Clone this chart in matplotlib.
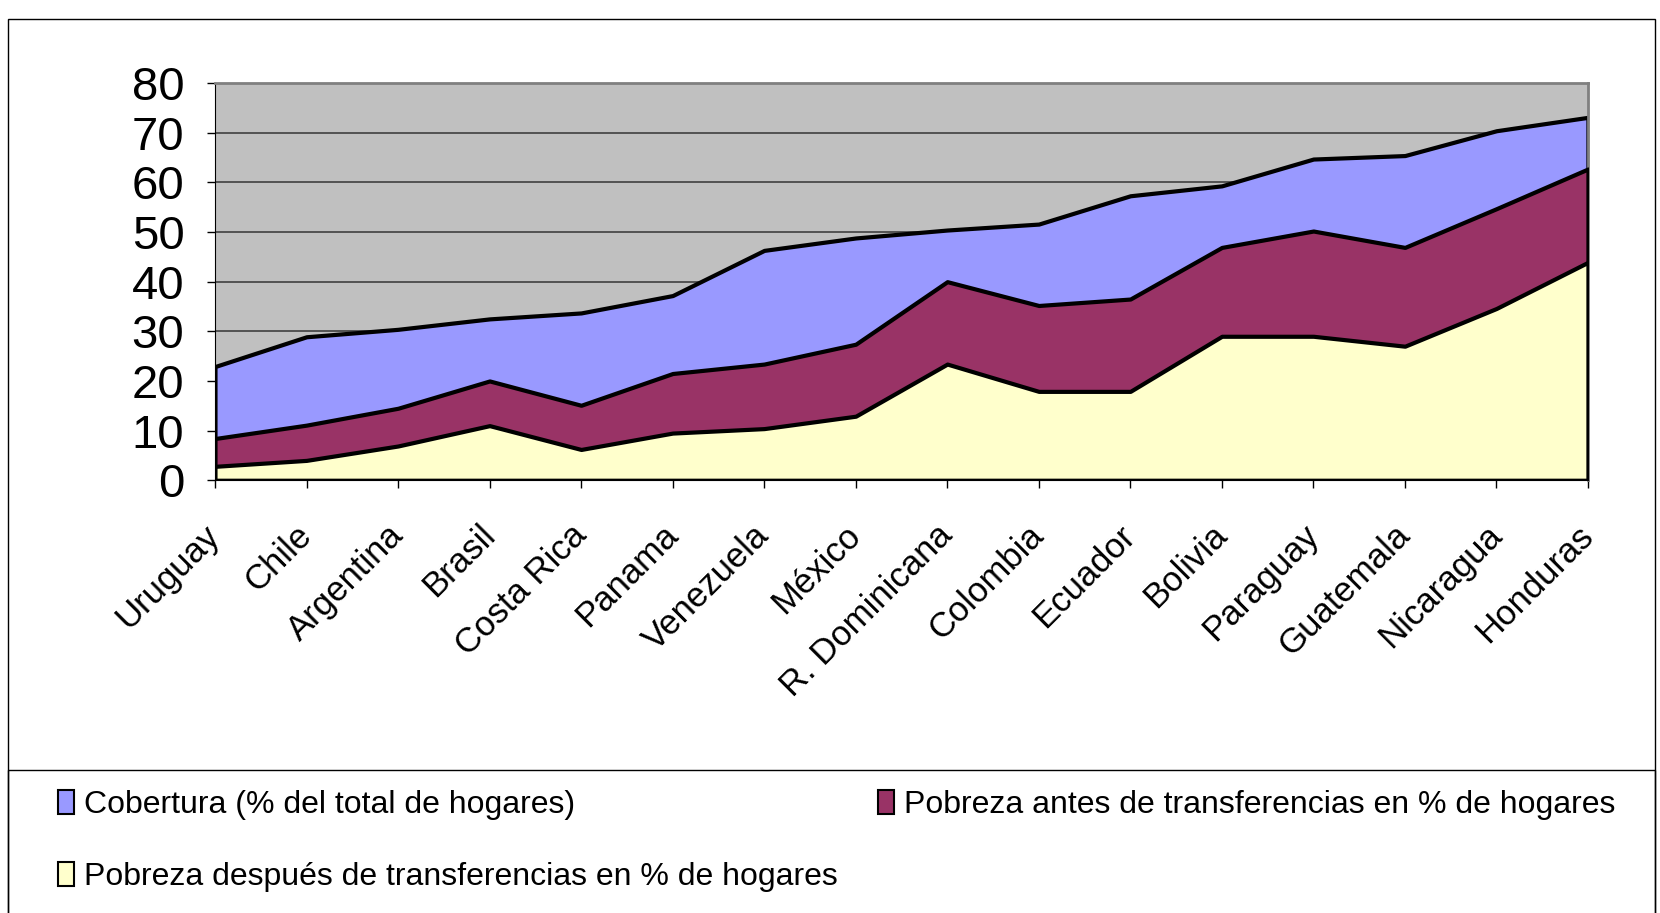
import numpy as np
import matplotlib.pyplot as plt
from matplotlib.patches import Rectangle, Patch

plt.rcParams['font.family'] = ['Liberation Sans', 'DejaVu Sans']

paises = ['Uruguay', 'Chile', 'Argentina', 'Brasil', 'Costa Rica', 'Panama', 'Venezuela',
          'México', 'R. Dominicana', 'Colombia', 'Ecuador', 'Bolivia', 'Paraguay',
          'Guatemala', 'Nicaragua', 'Honduras']
cobertura = [22.9, 28.9, 30.4, 32.5, 33.7, 37.2, 46.3, 48.8, 50.4, 51.6, 57.3, 59.3, 64.7, 65.4, 70.4, 73.1]
pobreza_antes = [8.4, 11.1, 14.5, 20.0, 15.1, 21.5, 23.4, 27.4, 40.0, 35.2, 36.5, 46.9, 50.2, 46.9, 54.7, 62.7]
pobreza_despues = [2.8, 4.0, 6.9, 11.0, 6.2, 9.5, 10.4, 12.9, 23.4, 17.9, 17.9, 29.0, 29.0, 27.0, 34.6, 43.9]

c_cob = '#9999FF'
c_antes = '#993366'
c_desp = '#FFFFCC'

fig = plt.figure(figsize=(16.6, 9.13), dpi=100)
ax = fig.add_axes([0.1295, 0.474, 0.8271, 0.435])

x = np.arange(len(paises))
ax.set_facecolor('#C0C0C0')
ax.fill_between(x, 0, cobertura, facecolor=c_cob, edgecolor='black', linewidth=3, zorder=2)
ax.fill_between(x, 0, pobreza_antes, facecolor=c_antes, edgecolor='black', linewidth=3, zorder=3)
ax.fill_between(x, 0, pobreza_despues, facecolor=c_desp, edgecolor='black', linewidth=3, zorder=4)

ax.set_xlim(0, len(paises) - 1)
ax.set_ylim(0, 80)
ax.set_yticks(range(0, 81, 10))
ax.yaxis.grid(True, color='#404040', linewidth=1.2)
ax.set_axisbelow(True)

ax.set_xticks(x)
ax.set_xticklabels(paises, rotation=45, ha='right', va='center', rotation_mode='anchor')
ax.tick_params(axis='x', length=6, width=1, pad=30, labelsize=25)
ax.tick_params(axis='y', length=6, width=1, pad=16, labelsize=34)

for s in ['top', 'right']:
    ax.spines[s].set_color('#808080')
    ax.spines[s].set_linewidth(2)
ax.spines['left'].set_color('black')
ax.spines['bottom'].set_color('black')

# marcos exteriores
fig.patches.append(Rectangle((8 / 1660, -0.01), 1647 / 1660, 1 - 19 / 913 + 0.01,
                             transform=fig.transFigure, fill=False, edgecolor='black', linewidth=1))
fig.patches.append(Rectangle((8 / 1660, -0.01), 1647 / 1660, 1 - 770 / 913 + 0.01,
                             transform=fig.transFigure, fill=False, edgecolor='black', linewidth=1))

etiquetas = ['Cobertura (% del total de hogares)',
             'Pobreza antes de transferencias en % de hogares',
             'Pobreza después de transferencias en % de hogares']
colores = [c_cob, c_antes, c_desp]
posiciones = [(42 / 1660, 1 - 805 / 913), (862 / 1660, 1 - 805 / 913), (42 / 1660, 1 - 877 / 913)]
for lab, col, pos in zip(etiquetas, colores, posiciones):
    fig.legend(handles=[Patch(facecolor=col, edgecolor='black', linewidth=1.5)], labels=[lab],
               loc='center left', bbox_to_anchor=pos, frameon=False, fontsize=23,
               handlelength=0.5, handleheight=0.8, handletextpad=0.3, borderpad=0)

fig.savefig('out.png', dpi=100)
